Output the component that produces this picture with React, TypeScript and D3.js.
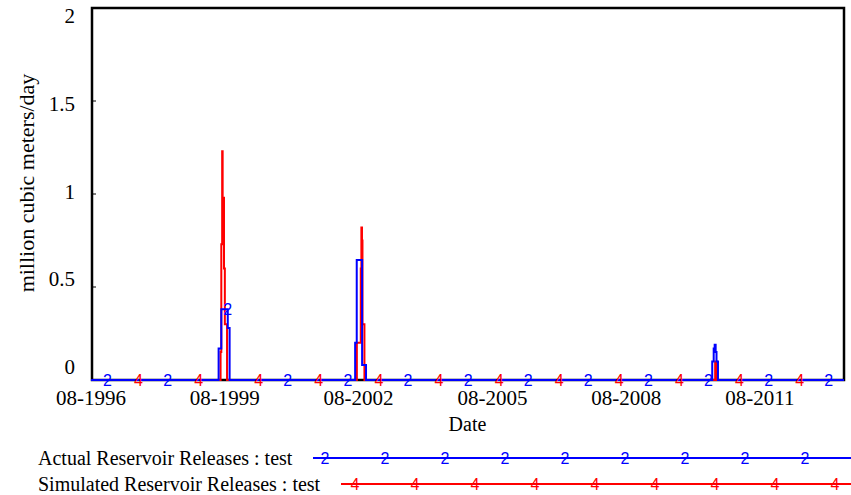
import React from "react";
import * as d3 from "d3";

// step data: value holds from each date until the next one
const actualDates = [
  "1996-08-01",
  "1999-06-12", "1999-07-04", "1999-08-26", "1999-09-10",
  "2002-07-04", "2002-07-17", "2002-08-30", "2002-10-01",
  "2010-07-06", "2010-07-18", "2010-07-26", "2010-08-03", "2010-08-10", "2010-08-22",
  "2013-06-19",
];
const actualValues = [
  0,
  0.17, 0.38, 0.28, 0,
  0.2, 0.645, 0.08, 0,
  0.1, 0.17, 0.19, 0.15, 0.1, 0,
  0,
];

const simDates = [
  "1999-06-01",
  "1999-06-28", "1999-07-04", "1999-07-11", "1999-07-15", "1999-07-26", "1999-08-02", "1999-08-20",
  "2002-07-18", "2002-08-19", "2002-08-24", "2002-08-29", "2002-09-02", "2002-09-18",
  "2010-07-30", "2010-08-12",
  "2013-06-19",
];
const simValues = [
  0,
  0.15, 0.73, 1.23, 0.98, 0.6, 0.3, 0,
  0.2, 0.6, 0.82, 0.75, 0.3, 0,
  0.1, 0,
  0,
];

const startDate = "1996-08-01";
const endDate = "2013-06-19";
const yTicks = [0, 0.5, 1, 1.5, 2];
const yTickLabels = ["0", "0.5", "1", "1.5", "2"];
const xTickDates = ["1996-08-01", "1999-08-01", "2002-08-01", "2005-08-01", "2008-08-01", "2011-08-01"];
const xTickLabels = ["08-1996", "08-1999", "08-2002", "08-2005", "08-2008", "08-2011"];

const W = 851;
const H = 495;
const M = { left: 91, right: 844, top: 8, bottom: 380 };
const BLUE = "#0000ff";
const RED = "#ff0000";
const SERIF = "'Liberation Serif', 'Times New Roman', serif";
const SANS = "'Liberation Sans', Arial, sans-serif";

const parse = d3.timeParse("%Y-%m-%d");

type Pt = { t: Date; v: number };

function makeSeries(dates: string[], values: number[]): Pt[] {
  return dates.map((d, i) => ({ t: parse(d) as Date, v: values[i] }));
}

function valueAt(series: Pt[], t: Date) {
  const i = d3.bisectRight(series.map((d) => +d.t), +t) - 1;
  return i < 0 ? 0 : series[i].v;
}

export default function App() {
  const actual = makeSeries(actualDates, actualValues);
  const sim = makeSeries(simDates, simValues);

  const x = d3.scaleTime()
    .domain([parse(startDate) as Date, parse(endDate) as Date])
    .range([M.left, M.right]);
  const y = d3.scaleLinear().domain([0, 2]).range([M.bottom, M.top]);
  // Vensim spreads the tick labels slightly inside the frame
  const yLab = d3.scaleLinear().domain([0, 2]).range([367, 16]);

  const line = d3.line<Pt>()
    .x((d) => x(d.t))
    .y((d) => y(d.v))
    .curve(d3.curveStepAfter);

  // red series starts at zero before its first entry
  const simFull = [{ t: x.domain()[0], v: 0 }, ...sim];

  // marker glyphs every 60px along each line
  const markers = (series: Pt[], start: number) => {
    const out: { px: number; py: number }[] = [];
    for (let px = start; px < M.right; px += 60.1) {
      out.push({ px, py: y(valueAt(series, x.invert(px))) });
    }
    return out;
  };
  const blueMarks = markers(actual, 107.5);
  const redMarks = markers(simFull, 138.5);

  const legendMarks = (start: number) => d3.range(start, W, 60);

  return (
    <svg width={W} height={H} style={{ position: "absolute", left: 0, top: 0, background: "#fff" }}>
      <rect x={0} y={0} width={W} height={H} fill="#fff" />

      {/* frame */}
      <rect x={M.left + 1} y={M.top} width={M.right - M.left - 1} height={M.bottom - M.top}
        fill="none" stroke="#000" strokeWidth={2.5} />

      {/* y ticks */}
      {yTicks.map((v, i) => (
        <g key={"yt" + i}>
          {v > 0 && v < 2 && (
            <line x1={M.left + 1} x2={M.left + 5} y1={y(v)} y2={y(v)} stroke="#000" strokeWidth={1} />
          )}
          <text x={75} y={yLab(v)} textAnchor="end" dominantBaseline="central"
            fontFamily={SERIF} fontSize={21}>{yTickLabels[i]}</text>
        </g>
      ))}

      {/* x tick labels */}
      {xTickDates.map((d, i) => (
        <text key={"xt" + i} x={x(parse(d) as Date)} y={398} textAnchor="middle"
          dominantBaseline="central" fontFamily={SERIF} fontSize={21}>{xTickLabels[i]}</text>
      ))}

      <text x={(M.left + M.right) / 2} y={424} textAnchor="middle" dominantBaseline="central"
        fontFamily={SERIF} fontSize={20}>Date</text>
      <text transform={`translate(26,183) rotate(-90)`} textAnchor="middle"
        dominantBaseline="central" fontFamily={SERIF} fontSize={22}>million cubic meters/day</text>

      {/* lines */}
      <path d={line(simFull) || ""} fill="none" stroke={RED} strokeWidth={2} />
      <path d={line(actual) || ""} fill="none" stroke={BLUE} strokeWidth={2} />

      {redMarks.map((m, i) => (
        <text key={"rm" + i} x={m.px} y={m.py} textAnchor="middle" dominantBaseline="central"
          fontFamily={SANS} fontSize={16} fill={RED}>4</text>
      ))}
      {blueMarks.map((m, i) => (
        <text key={"bm" + i} x={m.px} y={m.py} textAnchor="middle" dominantBaseline="central"
          fontFamily={SANS} fontSize={16} fill={BLUE}>2</text>
      ))}

      {/* legend */}
      <text x={38} y={458} dominantBaseline="central" fontFamily={SERIF} fontSize={20}>
        Actual Reservoir Releases : test
      </text>
      <line x1={313} x2={W} y1={458} y2={458} stroke={BLUE} strokeWidth={2} />
      {legendMarks(325).map((px, i) => (
        <text key={"lb" + i} x={px} y={458} textAnchor="middle" dominantBaseline="central"
          fontFamily={SANS} fontSize={16} fill={BLUE}>2</text>
      ))}

      <text x={38} y={484} dominantBaseline="central" fontFamily={SERIF} fontSize={20}>
        Simulated Reservoir Releases : test
      </text>
      <line x1={341} x2={W} y1={484} y2={484} stroke={RED} strokeWidth={2} />
      {legendMarks(355).map((px, i) => (
        <text key={"lr" + i} x={px} y={484} textAnchor="middle" dominantBaseline="central"
          fontFamily={SANS} fontSize={16} fill={RED}>4</text>
      ))}
    </svg>
  );
}
